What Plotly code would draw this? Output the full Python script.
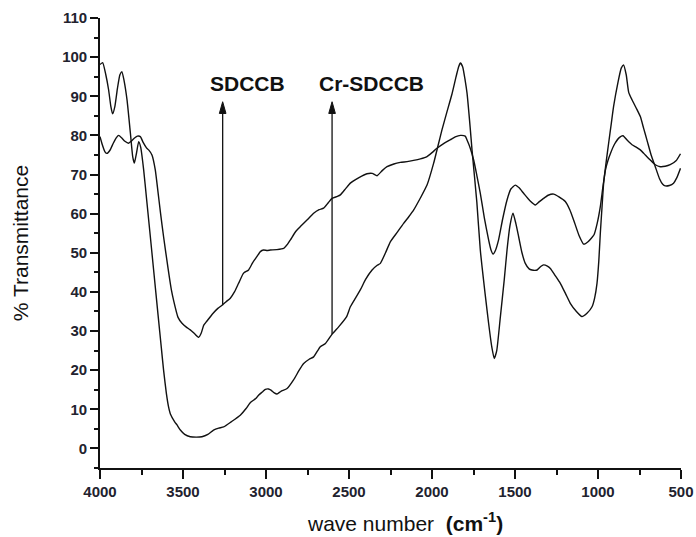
import plotly.graph_objects as go

# FTIR spectra: wavenumber (cm-1) and % transmittance
cr_wavenumber = [4000, 3984, 3965, 3948, 3935, 3924, 3910, 3895, 3880, 3868, 3855, 3837, 3817, 3803,
                 3793, 3780, 3767, 3755, 3737, 3720, 3700, 3677, 3650, 3630, 3617, 3600, 3587, 3576,
                 3550, 3536, 3516, 3490, 3456, 3420, 3386, 3350, 3316, 3285, 3255, 3210, 3155, 3120,
                 3095, 3060, 3045, 3020, 3004, 2985, 2970, 2950, 2934, 2910, 2873, 2834, 2800, 2773,
                 2740, 2713, 2673, 2642, 2602, 2560, 2514, 2492, 2460, 2432, 2400, 2361, 2330, 2311,
                 2280, 2251, 2210, 2171, 2140, 2111, 2070, 2030, 1990, 1960, 1940, 1910, 1880, 1855,
                 1840, 1829, 1815, 1800, 1789, 1770, 1759, 1730, 1709, 1680, 1659, 1640, 1625, 1610,
                 1588, 1565, 1548, 1530, 1512, 1495, 1478, 1458, 1438, 1415, 1398, 1380, 1367, 1345,
                 1328, 1305, 1287, 1260, 1227, 1195, 1167, 1130, 1097, 1065, 1036, 1020, 1006, 995,
                 986, 976, 966, 950, 936, 920, 906, 880, 860, 846, 830, 815, 795, 770, 745, 725, 705,
                 680, 655, 630, 610, 595, 570, 545, 525, 503]
cr_transmittance = [98.1, 98.6, 95.5, 91.6, 87.5, 85.5, 87.5, 92.0, 95.5, 96.3, 94.0, 89.0, 80.6, 74.6,
                    72.9, 75.5, 78.4, 77.0, 71.2, 64.0, 55.5, 45.6, 34.0, 25.5, 20.0, 14.0, 10.6, 8.8,
                    6.8, 6.0, 4.7, 3.6, 3.0, 2.9, 3.0, 3.6, 4.7, 5.2, 5.5, 6.8, 8.5, 10.2,
                    11.7, 12.8, 13.6, 14.5, 15.1, 15.2, 14.9, 14.2, 13.9, 14.6, 15.3, 17.5, 20.0, 21.7,
                    22.8, 23.4, 26.0, 26.8, 29.2, 31.2, 33.7, 36.2, 38.5, 40.5, 43.2, 45.6, 46.8, 47.3,
                    50.0, 52.8, 55.2, 57.5, 59.2, 60.9, 64.0, 67.3, 72.9, 78.0, 81.4, 86.0, 90.5, 95.0,
                    97.5, 98.5, 97.5, 94.0, 90.8, 82.0, 76.3, 63.0, 50.7, 39.5, 32.0, 26.0, 23.0, 25.0,
                    33.7, 43.0, 50.7, 57.0, 60.1, 57.5, 54.1, 50.0, 47.3, 45.9, 45.6, 45.5, 45.6, 46.5,
                    46.9, 46.6, 46.0, 44.3, 42.2, 39.5, 37.1, 35.0, 33.7, 34.6, 36.2, 38.5, 42.2, 48.0,
                    55.0, 61.5, 67.8, 73.5, 78.0, 83.0, 87.4, 93.5, 97.2, 98.0, 95.5, 91.0, 89.1, 87.0, 84.8, 81.8, 78.8,
                    75.0, 72.0, 69.0, 67.5, 67.1, 67.2, 67.8, 69.2, 71.6]

sd_wavenumber = [4000, 3985, 3970, 3958, 3940, 3920, 3900, 3888, 3870, 3850, 3828, 3810, 3790, 3775,
                 3757, 3740, 3720, 3707, 3687, 3667, 3651, 3635, 3617, 3590, 3570, 3557, 3530, 3506,
                 3480, 3456, 3430, 3406, 3390, 3375, 3357, 3320, 3290, 3265, 3240, 3215, 3190, 3165,
                 3135, 3105, 3080, 3055, 3034, 3015, 2994, 2974, 2935, 2894, 2870, 2853, 2820, 2793,
                 2750, 2713, 2680, 2653, 2625, 2602, 2570, 2552, 2520, 2492, 2440, 2392, 2360, 2331,
                 2300, 2271, 2230, 2191, 2150, 2111, 2070, 2030, 2000, 1970, 1930, 1889, 1860, 1829,
                 1800, 1789, 1770, 1749, 1730, 1709, 1685, 1659, 1645, 1632, 1618, 1599, 1575, 1548,
                 1525, 1498, 1475, 1448, 1410, 1377, 1355, 1328, 1300, 1267, 1235, 1197, 1170, 1147,
                 1115, 1086, 1060, 1024, 1005, 986, 970, 955, 940, 925, 900, 870, 849, 825, 795, 770,
                 745, 715, 685, 655, 625, 595, 565, 530, 503]
sd_transmittance = [79.7, 77.5, 75.8, 75.4, 76.2, 78.0, 79.5, 80.0, 79.4, 78.5, 78.0, 78.6, 79.4, 79.8,
                    79.7, 78.2, 76.8, 76.3, 75.0, 71.2, 65.7, 60.0, 54.1, 46.0, 40.5, 37.9, 33.5, 32.0,
                    31.0, 30.3, 29.3, 28.4, 29.5, 31.5, 32.5, 34.5, 35.8, 36.6, 37.5, 38.4, 40.0, 42.2,
                    44.8, 45.6, 47.5, 49.0, 50.3, 50.7, 50.6, 50.7, 50.8, 51.1, 52.2, 53.3, 55.5, 56.7,
                    58.5, 60.1, 61.0, 61.4, 62.8, 63.9, 64.4, 64.8, 66.4, 67.8, 69.2, 70.2, 70.3, 69.7,
                    71.0, 72.0, 72.7, 73.1, 73.3, 73.6, 74.0, 74.6, 75.6, 76.7, 77.9, 78.9, 79.6, 80.0,
                    79.8, 78.8, 76.8, 73.7, 69.8, 65.2, 59.0, 53.3, 50.8, 49.7, 50.6, 53.3, 58.5, 63.5,
                    66.3, 67.3, 66.6, 65.2, 63.3, 62.2, 63.0, 63.9, 64.7, 65.0, 64.3, 63.1, 61.0, 58.4,
                    54.5, 52.2, 52.8, 54.6, 57.5, 61.8, 67.0, 71.2, 73.6, 75.4, 77.8, 79.5, 79.9, 78.8, 77.6, 77.0,
                    76.3, 75.0, 73.7, 72.5, 72.0, 72.1, 72.5, 73.5, 75.3]

# Label arrows: (wavenumber, tail on curve, head)
sd_arrow = (3261, 36.6, 88.6)
cr_arrow = (2602, 29.2, 88.6)

ink = "#111111"
line_style = dict(color=ink, width=1.4)

fig = go.Figure()
fig.add_trace(go.Scatter(x=sd_wavenumber, y=sd_transmittance, mode="lines",
                         line=dict(shape="spline", smoothing=0.5, **line_style), name="SDCCB"))
fig.add_trace(go.Scatter(x=cr_wavenumber, y=cr_transmittance, mode="lines",
                         line=dict(shape="spline", smoothing=0.5, **line_style), name="Cr-SDCCB"))

label_font = dict(family="Liberation Sans, Arial, sans-serif", size=21, color=ink, weight="bold")
head_half_width = 20   # arrowhead half width, in wavenumber units
head_length = 3.0      # arrowhead length, in % units
for (wn, tail, head), text, tx in [(sd_arrow, "SDCCB", 3110), (cr_arrow, "Cr-SDCCB", 2366)]:
    # shaft
    fig.add_shape(type="line", xref="x", yref="y", x0=wn, x1=wn, y0=tail, y1=head - head_length,
                  line=dict(color=ink, width=1.3))
    # filled arrowhead
    fig.add_shape(type="path", xref="x", yref="y",
                  path=f"M {wn - head_half_width},{head - head_length} L {wn},{head} "
                       f"L {wn + head_half_width},{head - head_length} Z",
                  fillcolor=ink, line=dict(color=ink, width=1))
    fig.add_annotation(x=tx, y=93.2, xref="x", yref="y", text=text, showarrow=False,
                       font=label_font, xanchor="center", yanchor="middle")

tick_font = dict(family="Liberation Sans, Arial, sans-serif", size=15, color="#22222e", weight="bold")
title_font = dict(family="Liberation Sans, Arial, sans-serif", size=21, color=ink)

# x-axis title, set slightly right of the plot centre
fig.add_annotation(x=0.525, y=-0.119, xref="paper", yref="paper",
                   text="wave number  <b>(cm<sup>-1</sup>)</b>", showarrow=False,
                   font=title_font, xanchor="center", yanchor="middle")

fig.update_layout(
    width=696, height=537,
    margin=dict(l=100, r=15, t=18, b=69),
    paper_bgcolor="white", plot_bgcolor="white",
    showlegend=False,
    xaxis=dict(
        range=[4000, 500], tick0=500, dtick=500, automargin=False,
        ticks="outside", ticklen=9, tickwidth=1.5, tickcolor=ink,
        minor=dict(dtick=250, ticks="outside", ticklen=5, tickwidth=1.5, tickcolor=ink),
        showline=True, linecolor=ink, linewidth=1.6,
        showgrid=False, zeroline=False, tickfont=tick_font,
    ),
    yaxis=dict(
        range=[-5, 110], tick0=0, dtick=10, automargin=False,
        ticks="outside", ticklen=8, tickwidth=1.5, tickcolor=ink,
        minor=dict(dtick=5, ticks="outside", ticklen=4, tickwidth=1.5, tickcolor=ink),
        showline=True, linecolor=ink, linewidth=1.6,
        showgrid=False, zeroline=False, tickfont=tick_font,
        title=dict(text="% Transmittance", font=title_font, standoff=28),
    ),
)

fig.write_html("out.html")
